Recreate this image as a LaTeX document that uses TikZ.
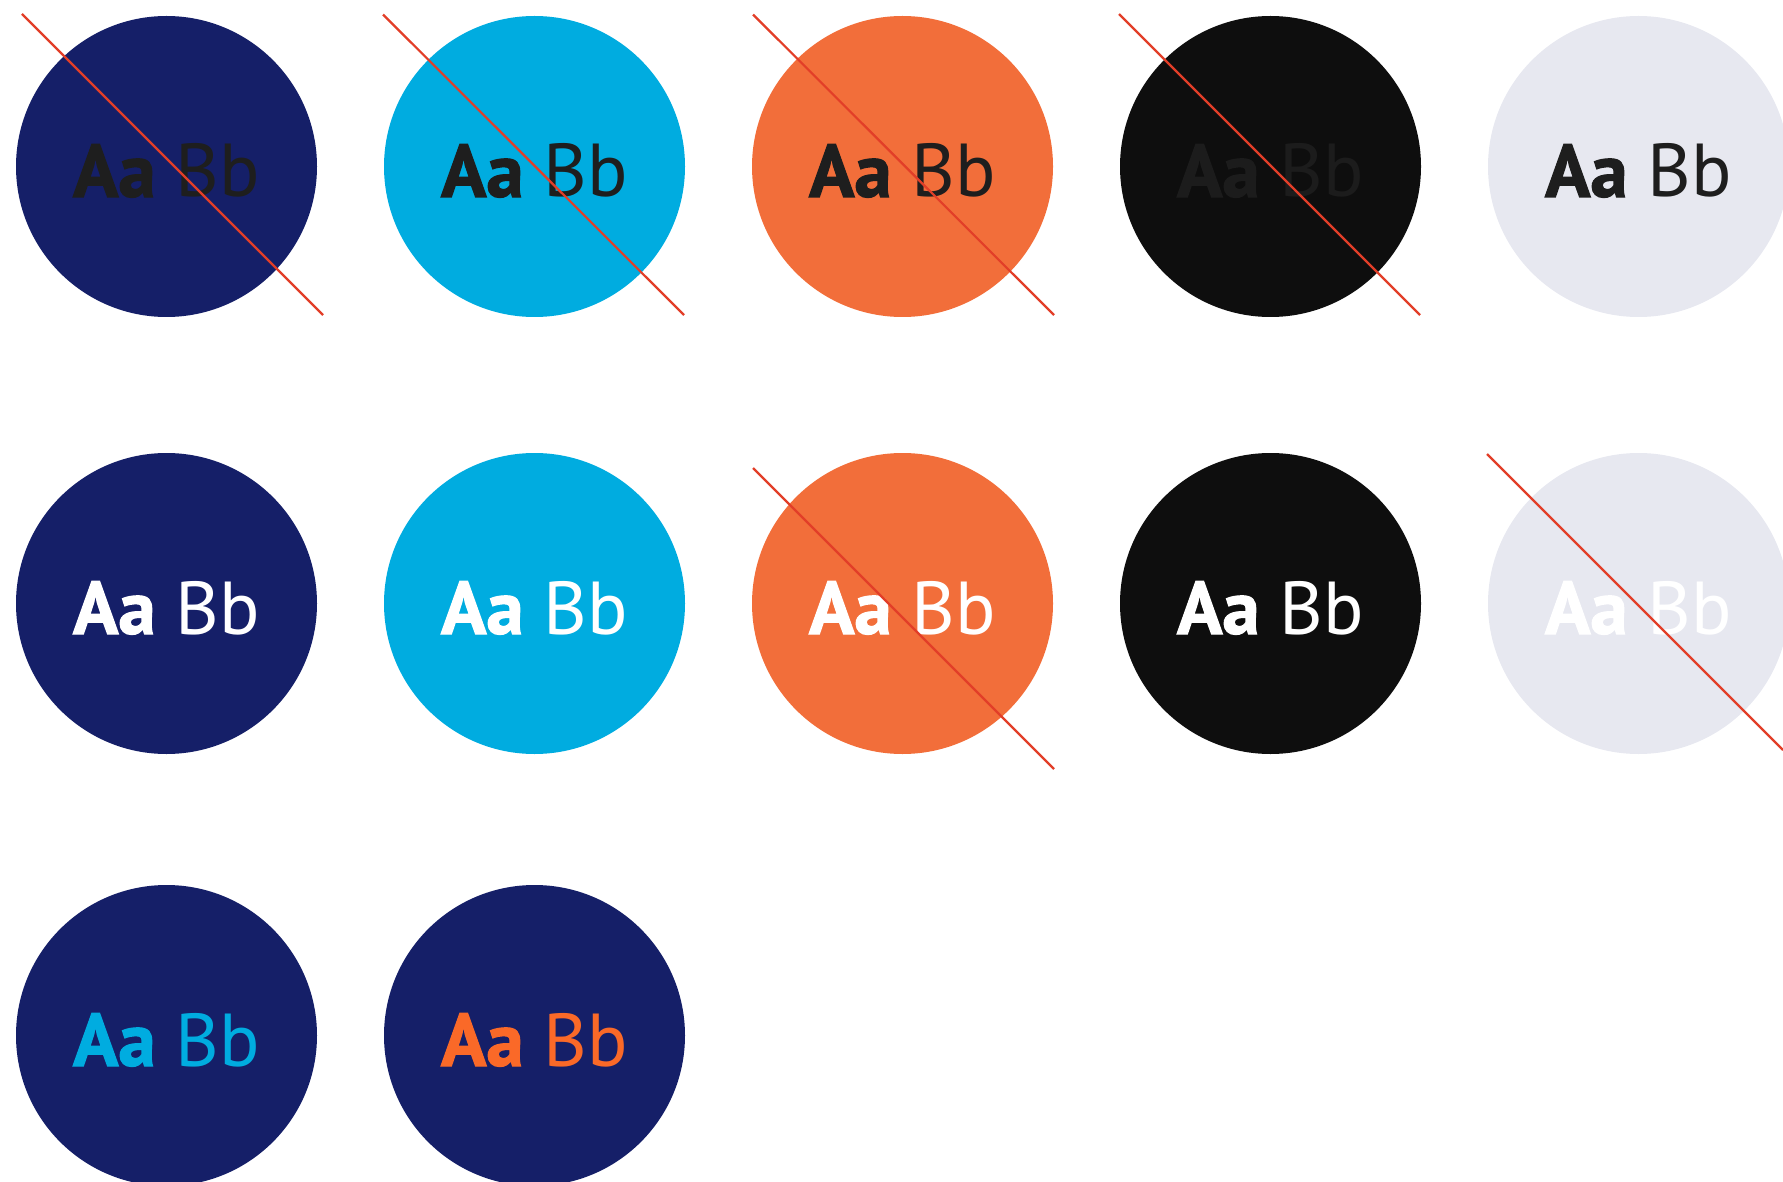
\documentclass[tikz,border=0pt]{standalone}
\usepackage{fontspec}
\setmainfont{PT Sans}[BoldFont={PT Sans Bold}, BoldFeatures={FakeBold=1.6}]
\definecolor{navy}{RGB}{21,31,104}
\definecolor{cyanc}{RGB}{0,172,224}
\definecolor{orangec}{RGB}{242,110,58}
\definecolor{blackc}{RGB}{14,14,14}
\definecolor{lgray}{RGB}{231,232,240}
\definecolor{darktext}{RGB}{30,30,30}
\definecolor{dimtext}{RGB}{28,28,28}
\definecolor{redline}{RGB}{226,62,40}
\definecolor{orangetext}{RGB}{250,105,40}
\tikzset{
  disc/.style={circle, fill=#1, minimum size=301pt, inner sep=0pt, draw=none},
  sample/.style={anchor=base, inner sep=0pt, text=#1, font=\fontsize{75}{80}\selectfont},
  strike/.style={draw=redline, line width=2.2pt}
}
\newcommand{\AaBb}{\textbf{Aa} Bb}
\begin{document}
\begin{tikzpicture}[x=1pt,y=-1pt]
\useasboundingbox (0,0) rectangle (1783,1182);
% row 1
\node[disc=navy]    (c11) at (166.5,166.5) {};
\node[disc=cyanc]   (c12) at (534.5,166.5) {};
\node[disc=orangec] (c13) at (902.5,166.5) {};
\node[disc=blackc]  (c14) at (1270.5,166.5) {};
\node[disc=lgray]   (c15) at (1638.5,166.5) {};
\node[sample=darktext] (t11) at (166.5,197) {\AaBb};
\node[sample=darktext] (t12) at (534.5,197) {\AaBb};
\node[sample=darktext] (t13) at (902.5,197) {\AaBb};
\node[sample=dimtext]  (t14) at (1270.5,197) {\AaBb};
\node[sample=darktext] (t15) at (1638.5,197) {\AaBb};
% row 2
\node[disc=navy]    (c21) at (166.5,603.5) {};
\node[disc=cyanc]   (c22) at (534.5,603.5) {};
\node[disc=orangec] (c23) at (902.5,603.5) {};
\node[disc=blackc]  (c24) at (1270.5,603.5) {};
\node[disc=lgray]   (c25) at (1638.5,603.5) {};
\node[sample=white] (t21) at (166.5,634) {\AaBb};
\node[sample=white] (t22) at (534.5,634) {\AaBb};
\node[sample=white] (t23) at (902.5,634) {\AaBb};
\node[sample=white] (t24) at (1270.5,634) {\AaBb};
\node[sample=white] (t25) at (1638.5,634) {\AaBb};
% row 3
\node[disc=navy] (c31) at (166.5,1035.5) {};
\node[disc=navy] (c32) at (534.5,1035.5) {};
\node[sample=cyanc]      (t31) at (166.5,1066) {\AaBb};
\node[sample=orangetext] (t32) at (534.5,1066) {\AaBb};
% strike-through lines
\coordinate (s11a) at (22,14);     \coordinate (s11b) at (323,315);
\coordinate (s12a) at (383,14.5);  \coordinate (s12b) at (684,315);
\coordinate (s13a) at (753,14.5);  \coordinate (s13b) at (1054,315);
\coordinate (s14a) at (1119,14);   \coordinate (s14b) at (1420,315);
\coordinate (s23a) at (753,468);   \coordinate (s23b) at (1054,769);
\coordinate (s25a) at (1487,454);  \coordinate (s25b) at (1783,750);
\draw[strike] (s11a) -- (s11b);
\draw[strike] (s12a) -- (s12b);
\draw[strike] (s13a) -- (s13b);
\draw[strike] (s14a) -- (s14b);
\draw[strike] (s23a) -- (s23b);
\draw[strike] (s25a) -- (s25b);
\end{tikzpicture}
\end{document}
